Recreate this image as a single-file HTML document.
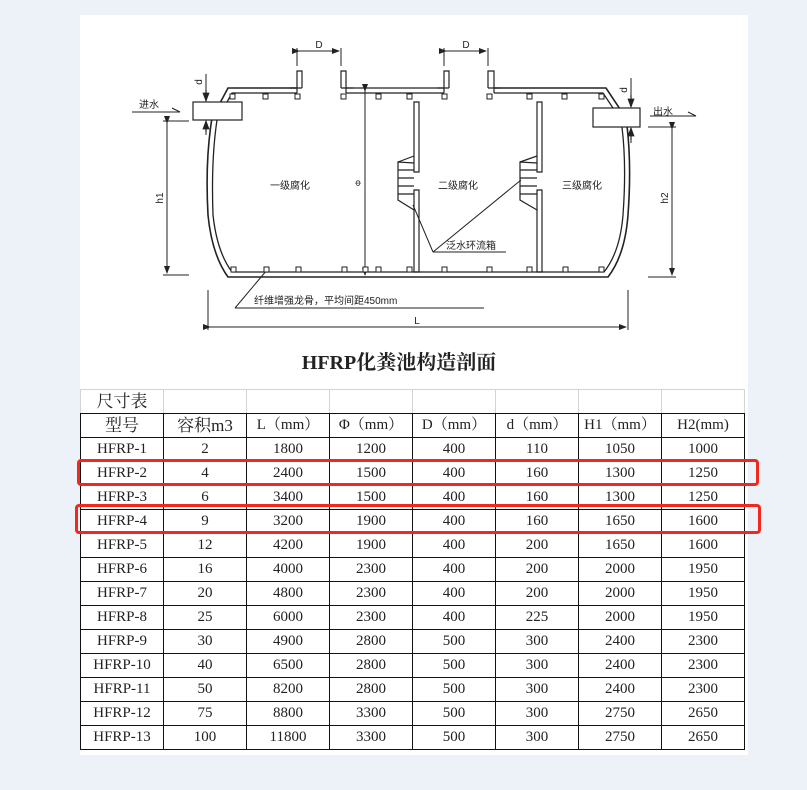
<!DOCTYPE html>
<html><head><meta charset="utf-8"><style>
body{margin:0;width:807px;height:790px;background:#edf1f8;position:relative;overflow:hidden;font-family:"Liberation Serif","Noto Serif CJK SC",serif}
#panel{position:absolute;left:80px;top:15px;width:668px;height:740px;background:#fff}
table{position:absolute;left:80px;top:389px;border-collapse:collapse;table-layout:fixed}
td{width:82px;height:23px;border:1px solid #111;text-align:center;font-size:15px;padding:0;color:#222;line-height:23px}
tr.top td{border:1px solid #d4d4d4;border-bottom:1px solid #111;font-size:17px}
.red{position:absolute;border:3px solid #f0281e;border-radius:4px}
svg{position:absolute;left:0;top:0}
</style></head><body>
<div id="panel"></div>
<svg width="807" height="390" font-family="'Liberation Sans','Noto Sans CJK SC',sans-serif" fill="none" stroke="#222" stroke-width="1.2">
<defs><marker id="a" markerWidth="8" markerHeight="6" refX="7" refY="3" orient="auto"><path d="M0,0L8,3L0,6z" fill="#222" stroke="none"/></marker></defs>
<path d="M297,88 H228 L212,118 Q205,160 208,215 Q212,255 228,277 H608 Q625,255 628,215 Q632,160 626,118 L606,88 H494" stroke-width="1.6"/>
<path d="M297,93 H232 L217,120 Q211,160 213,215 Q217,252 232,272 H604 Q620,252 623,215 Q627,160 621,120 L603,93 H494" stroke-width="1.3"/>
<path d="M346,88 H444 M346,93 H444"/>
<path d="M297,93 V71 H302 V88 M346,93 V71 H341 V88 M444,93 V71 H449 V88 M494,93 V71 H488 V88"/>
<path d="M290,88 H302 M341,88 H353 M437,88 H449 M488,88 H500"/>
<path d="M297,48 V66 M341,48 V66 M444,48 V66 M488,48 V66" stroke-width="1"/>
<path d="M299,51 H339" marker-start="url(#a)" marker-end="url(#a)" stroke-width="1"/>
<path d="M446,51 H486" marker-start="url(#a)" marker-end="url(#a)" stroke-width="1"/>
<rect x="193" y="102" width="49" height="18" fill="#fff"/>
<rect x="593" y="108" width="47" height="19" fill="#fff"/>
<path d="M206,74 V100 M206,122 V135 M631,78 V106 M631,129 V143" stroke-width="1"/>
<path d="M206,90 V101" marker-end="url(#a)"/><path d="M206,132 V121" marker-end="url(#a)"/>
<path d="M631,95 V107" marker-end="url(#a)"/><path d="M631,140 V128" marker-end="url(#a)"/>
<path d="M132,112 H180 L172,108" stroke-width="1"/><path d="M650,116 H696 L688,112" stroke-width="1"/>
<path d="M163,121 H189 M163,275 H189 M648,127 H676 M648,277 H676" stroke-width="1"/>
<path d="M167,123 V273" marker-start="url(#a)" marker-end="url(#a)" stroke-width="1"/>
<path d="M672,129 V275" marker-start="url(#a)" marker-end="url(#a)" stroke-width="1"/>
<path d="M365,91 V275" marker-start="url(#a)" marker-end="url(#a)" stroke-width="1"/>
<path d="M414,102 V172 H419 V102 Z M414,190 V272 H419 V190 Z M537,102 V172 H542 V102 Z M537,190 V272 H542 V190 Z"/>
<path d="M414,163 L398,162 V200 L414,210 M398,162 L414,156 M398,170 H414 M398,178 H414 M398,186 H414 M398,194 H414"/>
<path d="M537,163 L520,162 V200 L537,210 M520,162 L537,156 M520,170 H537 M520,178 H537 M520,186 H537 M520,194 H537"/>
<path d="M433,252 L413,205 M433,252 L521,180 M433,252 H506" stroke-width="1"/>
<path d="M235,308 L267,270 M235,308 H484" stroke-width="1"/>
<path d="M208,290 V330 M628,290 V330" stroke-width="1"/>
<path d="M210,327 H626" marker-start="url(#a)" marker-end="url(#a)" stroke-width="1"/>
<g fill="#fff" stroke-width="1">
<rect x="230" y="94" width="5" height="5"/><rect x="263" y="94" width="5" height="5"/><rect x="295" y="94" width="5" height="5"/><rect x="341" y="94" width="5" height="5"/><rect x="376" y="94" width="5" height="5"/><rect x="407" y="94" width="5" height="5"/><rect x="442" y="94" width="5" height="5"/><rect x="487" y="94" width="5" height="5"/><rect x="527" y="94" width="5" height="5"/><rect x="562" y="94" width="5" height="5"/><rect x="599" y="94" width="5" height="5"/>
<rect x="231" y="267" width="5" height="5"/><rect x="264" y="267" width="5" height="5"/><rect x="296" y="267" width="5" height="5"/><rect x="342" y="267" width="5" height="5"/><rect x="363" y="267" width="5" height="5"/><rect x="376" y="267" width="5" height="5"/><rect x="407" y="267" width="5" height="5"/><rect x="442" y="267" width="5" height="5"/><rect x="487" y="267" width="5" height="5"/><rect x="527" y="267" width="5" height="5"/><rect x="563" y="267" width="5" height="5"/><rect x="599" y="267" width="5" height="5"/>
</g>
<g fill="#222" stroke="none" font-size="10">
<text x="319" y="48" text-anchor="middle">D</text><text x="466" y="48" text-anchor="middle">D</text>
<text x="139" y="108">进水</text><text x="653" y="115">出水</text>
<text transform="translate(202,82) rotate(-90)" text-anchor="middle">d</text>
<text transform="translate(627,90) rotate(-90)" text-anchor="middle">d</text>
<text transform="translate(163,198) rotate(-90)" text-anchor="middle">h1</text>
<text transform="translate(668,198) rotate(-90)" text-anchor="middle">h2</text>
<text transform="translate(361,183) rotate(-90)" text-anchor="middle" font-size="8">Φ</text>
<text x="290" y="189" text-anchor="middle">一级腐化</text>
<text x="458" y="189" text-anchor="middle">二级腐化</text>
<text x="582" y="189" text-anchor="middle">三级腐化</text>
<text x="446" y="249">泛水环流箱</text>
<text x="254" y="304">纤维增强龙骨，平均间距450mm</text>
<text x="417" y="324" text-anchor="middle">L</text>
<text x="399" y="369" text-anchor="middle" font-size="20" font-weight="bold" font-family="'Liberation Serif','Noto Serif CJK SC',serif">HFRP化粪池构造剖面</text>
</g>
</svg>
<table>
<tr class="top"><td>尺寸表</td><td></td><td></td><td></td><td></td><td></td><td></td><td></td></tr>
<tr><td style="font-size:17px">型号</td><td style="font-size:17px">容积m3</td><td>L（mm）</td><td>Φ（mm）</td><td>D（mm）</td><td>d（mm）</td><td>H1（mm）</td><td>H2(mm)</td></tr>
<tr><td>HFRP-1</td><td>2</td><td>1800</td><td>1200</td><td>400</td><td>110</td><td>1050</td><td>1000</td></tr>
<tr><td>HFRP-2</td><td>4</td><td>2400</td><td>1500</td><td>400</td><td>160</td><td>1300</td><td>1250</td></tr>
<tr><td>HFRP-3</td><td>6</td><td>3400</td><td>1500</td><td>400</td><td>160</td><td>1300</td><td>1250</td></tr>
<tr><td>HFRP-4</td><td>9</td><td>3200</td><td>1900</td><td>400</td><td>160</td><td>1650</td><td>1600</td></tr>
<tr><td>HFRP-5</td><td>12</td><td>4200</td><td>1900</td><td>400</td><td>200</td><td>1650</td><td>1600</td></tr>
<tr><td>HFRP-6</td><td>16</td><td>4000</td><td>2300</td><td>400</td><td>200</td><td>2000</td><td>1950</td></tr>
<tr><td>HFRP-7</td><td>20</td><td>4800</td><td>2300</td><td>400</td><td>200</td><td>2000</td><td>1950</td></tr>
<tr><td>HFRP-8</td><td>25</td><td>6000</td><td>2300</td><td>400</td><td>225</td><td>2000</td><td>1950</td></tr>
<tr><td>HFRP-9</td><td>30</td><td>4900</td><td>2800</td><td>500</td><td>300</td><td>2400</td><td>2300</td></tr>
<tr><td>HFRP-10</td><td>40</td><td>6500</td><td>2800</td><td>500</td><td>300</td><td>2400</td><td>2300</td></tr>
<tr><td>HFRP-11</td><td>50</td><td>8200</td><td>2800</td><td>500</td><td>300</td><td>2400</td><td>2300</td></tr>
<tr><td>HFRP-12</td><td>75</td><td>8800</td><td>3300</td><td>500</td><td>300</td><td>2750</td><td>2650</td></tr>
<tr><td>HFRP-13</td><td>100</td><td>11800</td><td>3300</td><td>500</td><td>300</td><td>2750</td><td>2650</td></tr>
</table>
<div class="red" style="left:77px;top:459px;width:676px;height:21px"></div>
<div class="red" style="left:75px;top:504px;width:680px;height:24px"></div>
</body></html>
